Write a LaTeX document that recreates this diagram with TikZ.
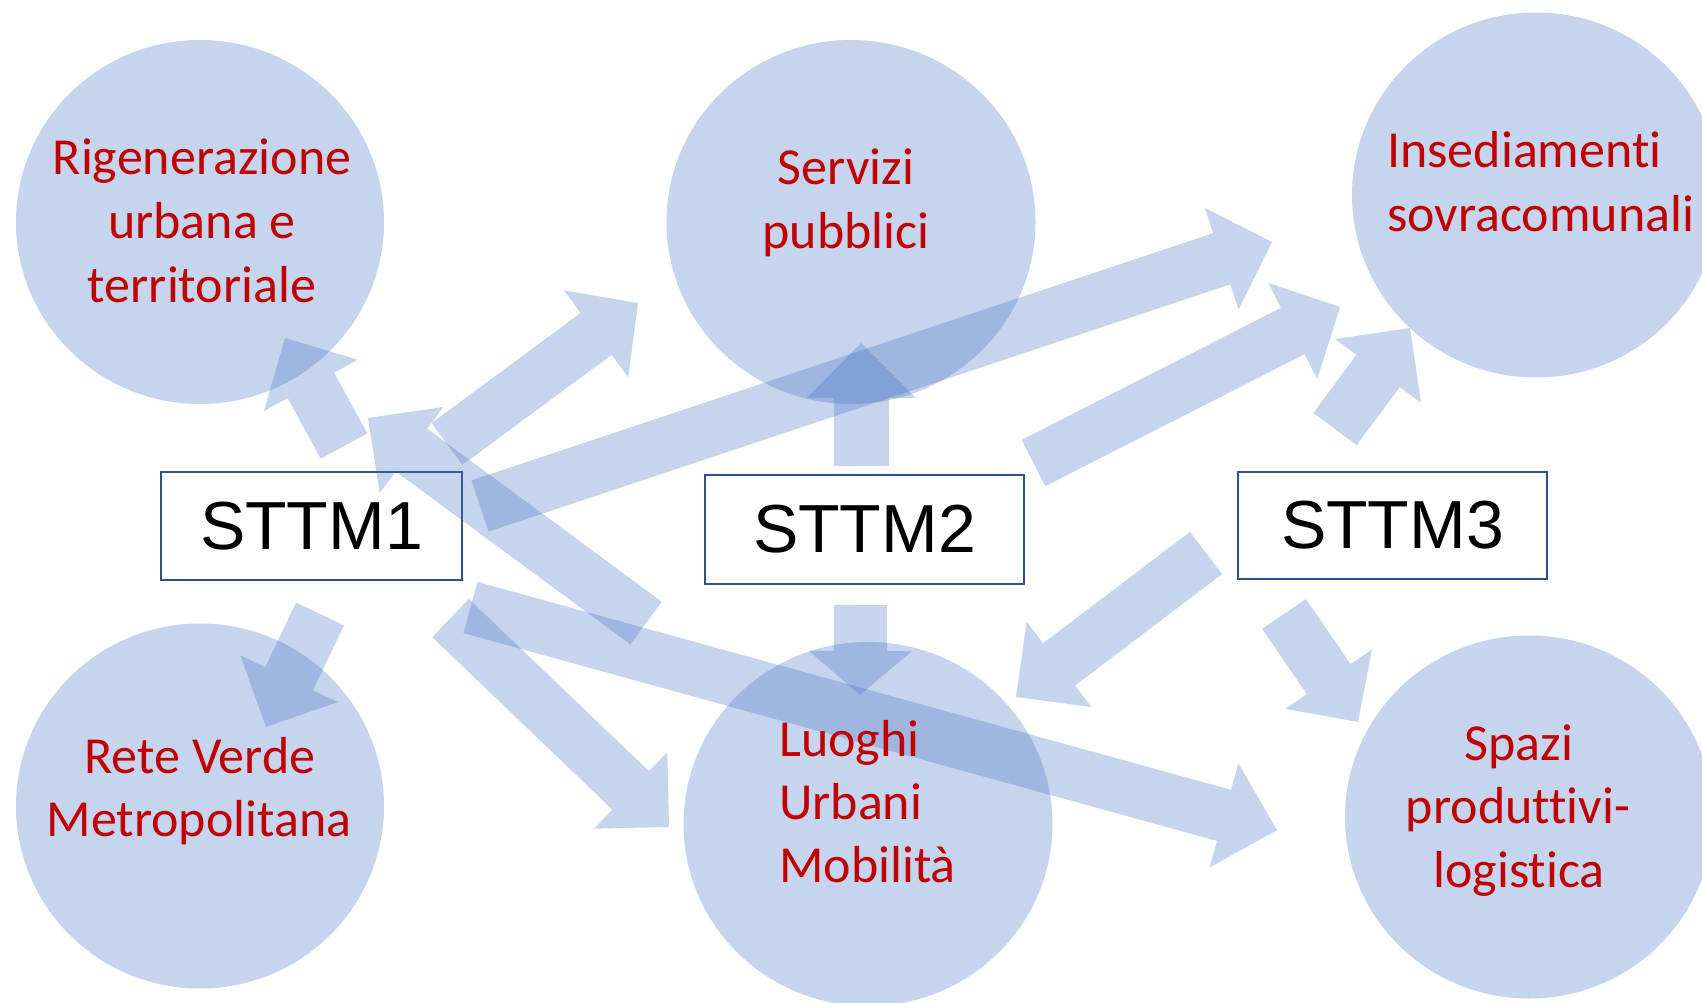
\documentclass[tikz,border=0pt]{standalone}
\usepackage{fontspec}
\setmainfont{Carlito}[Ligatures=NoCommon]
\newfontfamily\boxfont{Liberation Sans}
\usetikzlibrary{calc,shapes.geometric}
\definecolor{bubble}{HTML}{4472C4}
\definecolor{labelred}{HTML}{C00000}
\definecolor{boxblue}{HTML}{2F528F}
\newcommand\bArrow[5]{% tail, tip, shaft half width, head half width, head length
  \coordinate (#1#2b) at ($(#2)!#5!(#1)$);
  \fill[blockfill] ($(#1)!#3!90:(#2)$) -- ($(#1#2b)!#3!90:(#2)$) -- ($(#1#2b)!#4!90:(#2)$) -- (#2)
    -- ($(#1#2b)!#4!-90:(#2)$) -- ($(#1#2b)!#3!-90:(#2)$) -- ($(#1)!#3!-90:(#2)$) -- cycle;
}
\tikzset{
  blockfill/.style={fill=bubble, fill opacity=0.3},
  circ/.style={ellipse, fill=bubble, fill opacity=0.3, draw=none, inner sep=0pt, outer sep=0pt},
  sttm/.style={rectangle, draw=boxblue, line width=2.5pt, fill=white, inner sep=0pt,
    font=\boxfont\fontsize{68}{80}\selectfont},
  lab/.style={text=labelred, inner sep=0pt, font=\fontsize{52}{63.5}\selectfont, anchor=base},
  labw/.style={lab, anchor=base west}
}
\begin{document}
\begin{tikzpicture}[x=1pt, y=-1pt]
\useasboundingbox (0,0) rectangle (1702,1003);
\fill[white] (0,0) rectangle (1702,1003);
\begin{scope}
\clip (0,0) rectangle (1702,1003);
% circles
\node[circ, minimum width=368pt, minimum height=364pt] (c1) at (200,222) {};
\node[circ, minimum width=369pt, minimum height=364pt] (c2) at (851,222) {};
\node[circ, minimum width=368pt, minimum height=365pt] (c3) at (1536,195) {};
\node[circ, minimum width=368pt, minimum height=365pt] (c4) at (200,806) {};
\node[circ, minimum width=369pt, minimum height=364pt] (c5) at (868,824) {};
\node[circ, minimum width=368pt, minimum height=363pt] (c6) at (1529,817) {};
% boxes
\node[sttm, minimum width=301pt, minimum height=108pt] (s1) at (311.5,526) {STTM1};
\node[sttm, minimum width=319pt, minimum height=109pt] (s2) at (864.5,529.5) {STTM2};
\node[sttm, minimum width=309pt, minimum height=107pt] (s3) at (1392.5,525.5) {STTM3};
% arrow ends
\coordinate (ta) at (344,446);    \coordinate (pa) at (285,338);
\coordinate (tb) at (447,444);    \coordinate (pb) at (638,303);
\coordinate (tc) at (646,623);    \coordinate (pc) at (368,418);
\coordinate (td) at (480,506);    \coordinate (pd) at (1272,242);
\coordinate (te) at (861.5,466);  \coordinate (pe) at (861,343);
\coordinate (tf) at (320,614);    \coordinate (pf) at (266,727);
\coordinate (tg) at (450.5,618);  \coordinate (pg) at (669,827);
\coordinate (th) at (470.5,607.5);\coordinate (ph) at (1277,830);
\coordinate (ti) at (860.5,605);  \coordinate (pi) at (860,695);
\coordinate (tj) at (1033.5,463); \coordinate (pj) at (1340,307);
\coordinate (tk) at (1335,429);   \coordinate (pk) at (1410,328);
\coordinate (tl) at (1206,553);   \coordinate (pl) at (1016,697);
\coordinate (tm) at (1284,614);   \coordinate (pm) at (1358,722);
% arrows
\bArrow{ta}{pa}{26.5pt}{53.5pt}{54pt}
\bArrow{tb}{pb}{26pt}{54pt}{52pt}
\bArrow{tc}{pc}{26.5pt}{53.5pt}{54pt}
\bArrow{td}{pd}{27pt}{53.5pt}{53pt}
\bArrow{te}{pe}{27.5pt}{54.5pt}{55pt}
\bArrow{tf}{pf}{26.5pt}{54pt}{53.5pt}
\bArrow{tg}{pg}{26.5pt}{53pt}{53pt}
\bArrow{th}{ph}{26.5pt}{54pt}{55pt}
\bArrow{ti}{pi}{26.5pt}{51.5pt}{44pt}
\bArrow{tj}{pj}{26pt}{54pt}{53pt}
\bArrow{tk}{pk}{27pt}{53.5pt}{53.5pt}
\bArrow{tl}{pl}{26.5pt}{53.5pt}{54pt}
\bArrow{tm}{pm}{26.5pt}{52.5pt}{52pt}
% labels
\node[lab] (l1a) at (202,175) {Rigenerazione};
\node[lab] (l1b) at (202,238) {urbana e};
\node[lab] (l1c) at (202,302) {territoriale};
\node[lab] (l2a) at (846,185) {Servizi};
\node[lab] (l2b) at (846,248) {pubblici};
\node[labw] (l3a) at (1387,168) {Insediamenti};
\node[labw] (l3b) at (1387,231) {sovracomunali};
\node[lab] (l4a) at (200,773) {Rete Verde};
\node[lab] (l4b) at (199,836) {Metropolitana};
\node[labw] (l5a) at (779,756) {Luoghi};
\node[labw] (l5b) at (779,819) {Urbani};
\node[labw] (l5c) at (779,882) {Mobilità};
\node[lab] (l6a) at (1519,760) {Spazi};
\node[lab] (l6b) at (1518,823) {produttivi-};
\node[lab] (l6c) at (1519,887) {logistica};
\end{scope}
\end{tikzpicture}
\end{document}
